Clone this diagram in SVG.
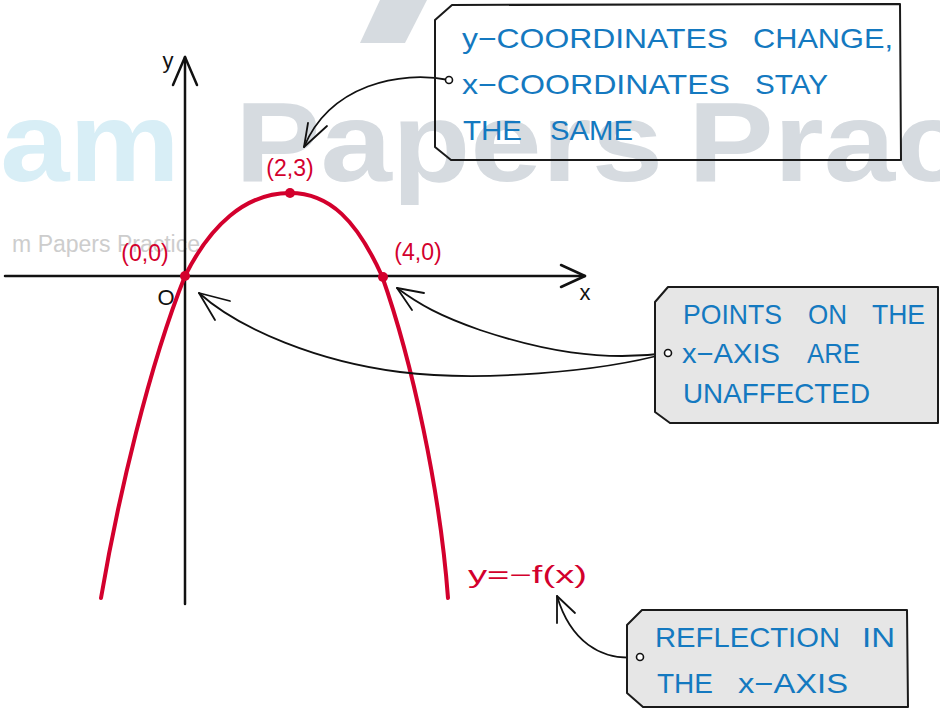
<svg xmlns="http://www.w3.org/2000/svg" width="940" height="709" viewBox="0 0 940 709">
<style>
.wm1{font-family:"Liberation Sans",Arial,sans-serif;font-weight:bold;font-size:113px;fill:#d8eef6}
.wm2{font-family:"Liberation Sans",Arial,sans-serif;font-weight:bold;font-size:113px;fill:#d6dbe0}
.wm3{font-family:"Liberation Sans",Arial,sans-serif;font-size:23px;fill:#cdcdcd}
.ax{stroke:#111;stroke-width:2.5;fill:none;stroke-linecap:round;stroke-linejoin:round}
.axl{font-family:"Liberation Sans",Arial,sans-serif;font-size:22px;fill:#111;text-anchor:middle}
.curve{stroke:#d3002d;stroke-width:4;fill:none;stroke-linecap:round}
.dot{fill:#d3002d}
.rl{font-family:"Liberation Sans",Arial,sans-serif;font-size:23px;fill:#d3002d}
.box{stroke:#1a1a1a;stroke-width:2;stroke-linejoin:round}
.bt{font-family:"Liberation Sans",Arial,sans-serif;font-size:28px;fill:#1479c0}
.con{stroke:#111;stroke-width:1.8;fill:none;stroke-linecap:round;stroke-linejoin:round}
.hole{stroke:#111;stroke-width:1.6;fill:#fff}
</style>
<g id="watermark">
<polygon points="380,0 427,0 405,43 360,43" fill="#d6dbe0"/>
<text class="wm1" x="-152" y="181" textLength="332" lengthAdjust="spacingAndGlyphs">Exam</text>
<text class="wm2" x="235" y="181" textLength="428" lengthAdjust="spacingAndGlyphs">Papers</text>
<text class="wm2" x="688" y="181" textLength="500" lengthAdjust="spacingAndGlyphs">Practice</text>
<text class="wm3" x="200" y="252" text-anchor="end">m Papers Practice</text>
</g>
<g id="axes">
<line class="ax" x1="185" y1="57" x2="185" y2="604"/>
<polyline class="ax" points="173,85 185,57 197,85"/>
<line class="ax" x1="5" y1="276" x2="585" y2="276"/>
<polyline class="ax" points="561,265 585,276 561,287"/>
<text class="axl" x="168" y="68">y</text>
<text class="axl" x="585" y="300">x</text>
<text class="axl" x="166" y="305">O</text>
</g>
<g id="curve">
<path class="curve" d="M101,598 C118,498 149,366 185,276 C210,226 245,193 290,193 C330,193 357,221 382,276 C412,361 440,490 448,598"/>
<circle class="dot" cx="185" cy="276" r="5"/>
<circle class="dot" cx="383" cy="277" r="5"/>
<circle class="dot" cx="290" cy="193" r="5"/>
<text class="rl" x="290" y="176" text-anchor="middle">(2,3)</text>
<text class="rl" x="145" y="261" text-anchor="middle">(0,0)</text>
<text class="rl" x="418" y="260" text-anchor="middle">(4,0)</text>
<text class="rl" x="468" y="583" font-size="26" textLength="119" lengthAdjust="spacingAndGlyphs">y=−f(x)</text>
</g>
<g id="connectors">
<path class="con" d="M449,80 C400,70 330,85 304,147"/>
<polyline class="con" points="308,123 304,147 327,126"/>
<path class="con" d="M668,353 C600,372 480,382 400,372 C320,362 240,330 199,293"/>
<polyline class="con" points="230,301 199,293 215,320"/>
<path class="con" d="M668,353 C600,362 540,350 480,330 C440,316 420,305 397,288"/>
<polyline class="con" points="424,293 397,288 412,310"/>
<path class="con" d="M640,657 C600,662 570,640 557,596"/>
<polyline class="con" points="557,623 557,596 575,613"/>
</g>
<g id="note-top">
<polygon class="box" fill="none" points="452,5 900,4 901,160 451,160 435,147 435,20"/>
<circle class="hole" cx="449" cy="80" r="3.5"/>
<text class="bt" x="462" y="48" textLength="266" lengthAdjust="spacingAndGlyphs">y−COORDINATES</text>
<text class="bt" x="753" y="48" textLength="140" lengthAdjust="spacingAndGlyphs">CHANGE,</text>
<text class="bt" x="462" y="94" textLength="268" lengthAdjust="spacingAndGlyphs">x−COORDINATES</text>
<text class="bt" x="755" y="94" textLength="73" lengthAdjust="spacingAndGlyphs">STAY</text>
<text class="bt" x="463" y="140" textLength="59" lengthAdjust="spacingAndGlyphs">THE</text>
<text class="bt" x="550" y="140" textLength="83" lengthAdjust="spacingAndGlyphs">SAME</text>
</g>
<g id="note-middle">
<polygon class="box" fill="#e6e6e6" points="668,287 938,287 938,423 670,423 655,412 655,302"/>
<circle class="hole" cx="668" cy="353" r="3.5"/>
<text class="bt" x="683" y="324" textLength="99" lengthAdjust="spacingAndGlyphs">POINTS</text>
<text class="bt" x="808" y="324" textLength="39" lengthAdjust="spacingAndGlyphs">ON</text>
<text class="bt" x="872" y="324" textLength="53" lengthAdjust="spacingAndGlyphs">THE</text>
<text class="bt" x="682" y="363" textLength="98" lengthAdjust="spacingAndGlyphs">x−AXIS</text>
<text class="bt" x="807" y="363" textLength="53" lengthAdjust="spacingAndGlyphs">ARE</text>
<text class="bt" x="683" y="403" textLength="187" lengthAdjust="spacingAndGlyphs">UNAFFECTED</text>
</g>
<g id="note-bottom">
<polygon class="box" fill="#e6e6e6" points="642,610 907,610 908,707 643,707 627,693 627,625"/>
<circle class="hole" cx="640" cy="657" r="3.5"/>
<text class="bt" x="655" y="647" textLength="185" lengthAdjust="spacingAndGlyphs">REFLECTION</text>
<text class="bt" x="862" y="647" textLength="33" lengthAdjust="spacingAndGlyphs">IN</text>
<text class="bt" x="657" y="693" textLength="56" lengthAdjust="spacingAndGlyphs">THE</text>
<text class="bt" x="738" y="693" textLength="110" lengthAdjust="spacingAndGlyphs">x−AXIS</text>
</g>
</svg>
